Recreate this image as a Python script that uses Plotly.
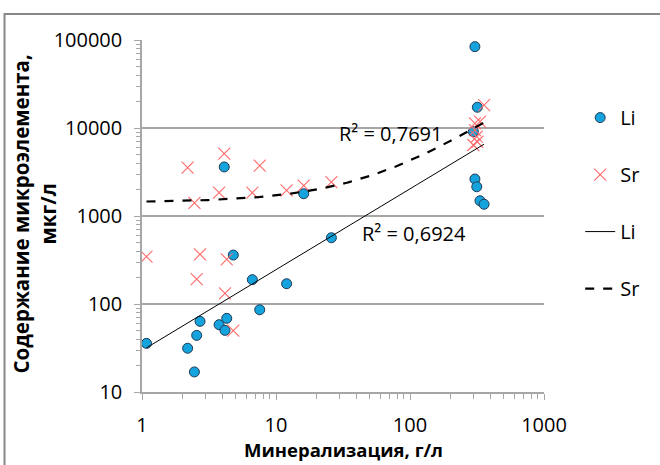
import numpy as np
import plotly.graph_objects as go

# Mineralization, g/L (shared by both elements)
mineralization = [1.08, 2.19, 2.46, 2.56, 2.71, 3.76, 4.11, 4.16, 4.29, 4.8, 6.66, 7.56,
                  12.0, 16.1, 25.9, 305, 318, 297, 305, 315, 333, 357]
# Li content, ug/L
li_values = [35.7, 31.4, 16.9, 44, 63.5, 58.2, 3610, 50.2, 68.7, 360, 189, 86,
             170, 1790, 566, 84000, 17200, 9080, 2630, 2150, 1490, 1360]
# Sr content, ug/L
sr_values = [345, 3540, 1410, 192, 367, 1840, 5100, 132, 322, 49.8, 1840, 3730,
             1960, 2210, 2420, 9480, 6980, 6410, 11300, 7960, 11800, 18200]

x_ticks = [1, 10, 100, 1000]
y_ticks = [10, 100, 1000, 10000, 100000]

r2_li_text = "R² = 0,6924"
r2_sr_text = "R² = 0,7691"

x = np.array(mineralization, dtype=float)
li = np.array(li_values, dtype=float)
sr = np.array(sr_values, dtype=float)

# Trend lines: power for Li, linear for Sr
xs = np.logspace(np.log10(x.min()), np.log10(x.max()), 200)
b_li, a_li = np.polyfit(np.log(x), np.log(li), 1)
li_fit = np.exp(a_li) * xs ** b_li
k_sr, c_sr = np.polyfit(x, sr, 1)
sr_fit = c_sr + k_sr * xs

def minor_vals(majors):
    return [m * d for m in majors[:-1] for d in range(2, 10)]

FONT = "Open Sans"
fig = go.Figure()
fig.add_trace(go.Scatter(
    x=mineralization, y=li_values, mode="markers", name="Li", legendgroup="a",
    marker=dict(symbol="circle", size=10, color="#14A3DC",
                line=dict(color="#1F3A56", width=1))))
fig.add_trace(go.Scatter(
    x=mineralization, y=sr_values, mode="markers", name="Sr", legendgroup="b",
    marker=dict(symbol="x-thin-open", size=12, color="#FF6A6A",
                line=dict(color="#FF6A6A", width=1.1))))
fig.add_trace(go.Scatter(
    x=xs, y=li_fit, mode="lines", name="Li", legendgroup="c",
    line=dict(color="#000000", width=1)))
fig.add_trace(go.Scatter(
    x=xs, y=sr_fit, mode="lines", name="Sr", legendgroup="d",
    line=dict(color="#000000", width=2.2, dash="dash")))

fig.add_annotation(text=r2_sr_text, x=np.log10(71), y=np.log10(8770), xref="x", yref="y",
                   xanchor="center", yanchor="middle",
                   showarrow=False, font=dict(family=FONT, size=20, color="#000"))
fig.add_annotation(text=r2_li_text, x=np.log10(107), y=np.log10(641), xref="x", yref="y",
                   xanchor="center", yanchor="middle",
                   showarrow=False, font=dict(family=FONT, size=20, color="#000"))
fig.add_annotation(text="<b>Содержание микроэлемента,<br>мкг/л</b>", textangle=-90,
                   x=-0.268, y=0.505, xref="paper", yref="paper", showarrow=False,
                   xanchor="center", yanchor="middle",
                   font=dict(family=FONT, size=20.5, color="#000"))
fig.add_annotation(text="<b>Минерализация, г/л</b>",
                   x=0.5, y=-0.162, xref="paper", yref="paper", showarrow=False,
                   xanchor="center", yanchor="middle",
                   font=dict(family=FONT, size=18.5, color="#000"))

fig.add_shape(type="rect", xref="paper", yref="paper", x0=-0.342, x1=1.5, y0=-0.5, y1=1.074,
              line=dict(color="#888888", width=2), fillcolor="rgba(0,0,0,0)", layer="above")

fig.update_xaxes(type="log", range=[0, 3], showgrid=False, showline=True, linecolor="#A6A6A6",
                 linewidth=1.5, ticks="outside", ticklen=6, tickcolor="#A6A6A6",
                 tickvals=x_ticks, ticktext=[str(v) for v in x_ticks],
                 ticklabelstandoff=8,
                 minor=dict(ticks="outside", ticklen=5, tickcolor="#A6A6A6", showgrid=False,
                            tickvals=minor_vals(x_ticks)),
                 tickfont=dict(family=FONT, size=20, color="#000"), zeroline=False)
fig.update_yaxes(type="log", range=[1, 5], showgrid=True, gridcolor="#A6A6A6", gridwidth=1.5,
                 showline=True, linecolor="#A6A6A6", linewidth=1.5, ticks="outside", ticklen=6,
                 tickcolor="#A6A6A6",
                 tickvals=y_ticks, ticktext=[str(v) for v in y_ticks],
                 ticklabelstandoff=8,
                 minor=dict(ticks="outside", ticklen=4, tickcolor="#A6A6A6", showgrid=False,
                            tickvals=minor_vals(y_ticks)),
                 tickfont=dict(family=FONT, size=20, color="#000"), zeroline=False)

fig.update_layout(
    width=660, height=465, autosize=False,
    margin=dict(l=142, r=116, t=40, b=73),
    plot_bgcolor="white", paper_bgcolor="white",
    font=dict(family=FONT, color="#000"),
    showlegend=True,
    legend=dict(x=1.09, y=0.835, xanchor="left", yanchor="top", tracegroupgap=28,
                font=dict(family=FONT, size=20, color="#000"), bgcolor="rgba(0,0,0,0)"),
)

fig.write_html("out.html", config={"displayModeBar": False},
               post_script="document.body.style.margin='0';document.body.style.overflow='hidden';")
